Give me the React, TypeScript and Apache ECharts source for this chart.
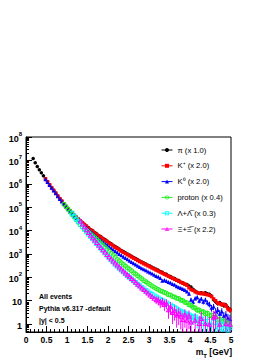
import React, { useEffect, useRef } from "react";
import * as echarts from "echarts";

// m_T bin centres [GeV]
const mTBins = [
  0.175, 0.225, 0.275, 0.325, 0.375, 0.425, 0.475, 0.525, 0.575, 0.625,
  0.675, 0.725, 0.775, 0.825, 0.875, 0.925, 0.975, 1.025, 1.075, 1.125,
  1.175, 1.225, 1.275, 1.325, 1.375, 1.425, 1.475, 1.525, 1.575, 1.625,
  1.675, 1.725, 1.775, 1.825, 1.875, 1.925, 1.975, 2.025, 2.075, 2.125,
  2.175, 2.225, 2.275, 2.325, 2.375, 2.425, 2.475, 2.525, 2.575, 2.625,
  2.675, 2.725, 2.775, 2.825, 2.875, 2.925, 2.975, 3.025, 3.075, 3.125,
  3.175, 3.225, 3.275, 3.325, 3.375, 3.425, 3.475, 3.525, 3.575, 3.625,
  3.675, 3.725, 3.775, 3.825, 3.875, 3.925, 3.975, 4.025, 4.075, 4.125,
  4.175, 4.225, 4.275, 4.325, 4.375, 4.425, 4.475, 4.525, 4.575, 4.625,
  4.675, 4.725, 4.775, 4.825, 4.875, 4.925, 4.975,
];

const pion = [
  1.2e7, 7.9e6, 5.5e6, 4.0e6, 2.95e6, 2.19e6, 1.62e6, 1.23e6, 9.1e5, 6.9e5,
  5.25e5, 3.98e5, 3.02e5, 2.34e5, 1.82e5, 1.41e5, 1.1e5, 8.7e4, 7.1e4, 5.6e4,
  4.57e4, 3.8e4, 3.16e4, 2.63e4, 2.24e4, 1.86e4, 1.58e4, 1.32e4, 1.12e4, 9.8e3,
  8.3e3, 7.2e3, 6.2e3, 5.4e3, 4.7e3, 4.1e3, 3.55e3, 3.1e3, 2.7e3, 2.34e3,
  2.09e3, 1.82e3, 1.62e3, 1.41e3, 1.26e3, 1.12e3, 1000, 891, 794, 708,
  631, 562, 501, 457, 407, 372, 331, 302, 269, 245,
  219, 203, 176, 165, 143, 134, 115, 109, 93, 89,
  76, 73, 62, 59, 51, 49, 43, 39, 31, 26,
  23, 21, 22, 20, 22, 20, 19, 16, 11, 9,
  7.6, 8.3, 7.1, 6.3, 6.6, 5.0, 4.2,
];

const kaonCharged = [
  null, null, null, null, null, null,
  1.62e6, 1.22e6, 9.0e5, 6.8e5, 5.2e5, 3.95e5, 3.0e5, 2.3e5, 1.8e5, 1.39e5,
  1.08e5, 8.5e4, 6.9e4, 5.5e4, 4.45e4, 3.7e4, 3.05e4, 2.55e4, 2.15e4, 1.8e4,
  1.52e4, 1.27e4, 1.07e4, 9.3e3, 7.9e3, 6.8e3, 5.9e3, 5.1e3, 4.45e3, 3.85e3,
  3.35e3, 2.9e3, 2.55e3, 2.2e3, 1.95e3, 1.7e3, 1.5e3, 1.32e3, 1.17e3, 1.04e3,
  930, 830, 740, 660, 590, 525, 470, 425, 380, 345,
  310, 280, 252, 228, 205, 187, 168, 152, 137, 124,
  112, 101, 91, 83, 75, 68, 61, 56, 51, 46,
  36, 30, 28, 24, 22, 21, 20, 21, 19, 18,
  17, 15, 12, 10, 8, 7.5, 6.8, 7.0, 6.0, 4.5,
  4.0,
];

const kaonNeutral = [
  null, null, null, null, null, null,
  1.58e6, 1.2e6, 8.9e5, 6.8e5, 5.1e5, 3.9e5, 2.95e5, 2.24e5, 1.74e5, 1.35e5,
  1.05e5, 8.1e4, 6.5e4, 5.1e4, 4.1e4, 3.4e4, 2.75e4, 2.3e4, 1.9e4, 1.58e4,
  1.32e4, 1.1e4, 9.1e3, 7.8e3, 6.5e3, 5.5e3, 4.6e3, 3.9e3, 3.3e3, 2.8e3,
  2.45e3, 2.1e3, 1.78e3, 1.55e3, 1.35e3, 1.15e3, 1000, 870, 760, 675,
  590, 515, 457, 398, 355, 316, 275, 245, 219, 200,
  178, 162, 145, 129, 115, 105, 93, 72, 76, 69,
  63, 58, 52, 48, 42, 38, 35, 32, 29, 25,
  20, 11, 9.1, 12.6, 14, 10, 12, 9, 11, 8.3,
  7.1, 5, 5.6, 3.5, 4, 2.8, 3.5, 2.2, 2.5, 1.8,
  1.6,
];

const proton = [
  null, null, null, null, null, null, null, null, null, null,
  null, null, null, null, null,
  1.32e5, 1.05e5, 8.3e4, 6.5e4, 4.9e4, 3.8e4, 2.9e4, 2.24e4, 1.78e4, 1.45e4,
  1.2e4, 1.02e4, 8.5e3, 7.2e3, 6.0e3, 5.0e3, 4.2e3, 3.5e3, 2.9e3, 2.35e3,
  1.95e3, 1.58e3, 1.29e3, 1.05e3, 870, 725, 600, 500, 417, 355,
  302, 257, 224, 190, 158, 138, 117, 100, 87, 74,
  65, 56, 49, 43, 38, 33, 30, 27, 24.5, 22.4,
  21, 18, 17.5, 15, 14.5, 12.8, 12.4, 10.5, 10.2, 8.5,
  8.2, 6.8, 6.4, 5.2, 4.9, 4.0, 4.0, 3.3, 3.4, 2.8,
  2.9, 2.3, 2.4, 2.0, 2.0, 1.5, 1.6, 1.3, 1.35, 1.1,
  1.1, 0.85,
];

const lambda = [
  null, null, null, null, null, null, null, null, null, null,
  null, null, null, null, null, null, null, null, null,
  5.5e4, 4.1e4, 3.1e4, 2.4e4, 1.86e4, 1.45e4, 1.12e4, 8.9e3, 7.1e3, 5.6e3,
  4.5e3, 3.55e3, 2.8e3, 2.24e3, 1.78e3, 1.41e3, 1.12e3, 890, 710, 560,
  457, 363, 302, 245, 204, 170, 141, 120, 100, 85,
  71, 60, 51, 44, 37, 32, 27.5, 24, 21, 18.6,
  16.2, 14.5, 12.9, 11.5, 10.2, 9.1, 8.1, 7.2, 6.5, 5.7,
  5.0, 4.5, 4.0, 3.5, 3.2, 2.9, 2.6, 2.4, 2.1, 1.9,
  2.0, 1.6, 1.4, 1.66, 1.26, 1.12, 1.3, 1.0, 0.9, 1.2,
  0.8, 0.9, 0.7, 1.0, 0.63, 0.8, 0.56, 0.7,
];

const xi = [
  null, null, null, null, null, null, null, null, null, null,
  null, null, null, null, null, null, null, null, null, null,
  null, null, null,
  2.6e4, 1.95e4, 1.48e4, 1.1e4, 8.5e3, 6.5e3, 5.1e3, 4.0e3, 3.16e3, 2.45e3,
  1.95e3, 1.55e3, 1.23e3, 980, 776, 631, 513, 417, 347, 282,
  234, 191, 158, 132, 110, 91, 76, 63, 52, 44,
  36, 31, 26, 22, 18, 15.5, 13.2, 11.2, 11, 8.3,
  9.3, 7.1, 7.9, 4.2, 5.6, 3.2, 3.8, 2.5, 2.9, 2.2,
  1.6, 2.5, 1.5, 2.2, 1.26, null, 1.5, null, 1.1, 1.8,
  null, 1.1, null, 1.0, null, 2.0, 2.2, null, 1.0, null,
  null, 1.1, null, 1.0,
];

// symmetric errors for the tail bins, starting at bin index tailFrom (3.175 GeV)
const tailFrom = 60;
const pionErr = [
  0, 0, 0, 0, 0, 0, 0, 0, 0, 0, 0, 0, 0, 0, 0, 0, 3, 3, 2.8,
  2.5, 2.4, 2.3, 2.3, 2.2, 2.3, 2.2, 2.1, 2.0, 1.7, 1.5, 1.4, 1.45, 1.35, 1.3, 1.3, 1.15, 1.05,
];
const kaonChargedErr = [
  0, 0, 0, 0, 0, 0, 0, 0, 0, 0, 0, 0, 0, 0, 0, 0, 3, 2.8, 2.7,
  2.5, 2.4, 2.3, 2.2, 2.3, 2.2, 2.1, 2.1, 1.9, 1.7, 1.6, 1.4, 1.4, 1.3, 1.3, 1.2, 1.05, 1.0,
];
const kaonNeutralErr = [
  8, 7.5, 7, 6, 6.2, 5.9, 5.6, 5.4, 5.1, 4.9, 4.6, 4.4, 4.2, 4.0, 3.8, 3.5, 3.2, 2.4, 2.2,
  2.5, 2.7, 2.3, 2.5, 2.1, 2.4, 2.0, 1.9, 1.6, 1.7, 1.3, 1.4, 1.2, 1.3, 1.05, 1.1, 0.95, 0.9,
];
const protonErr = [
  3, 2.8, 2.6, 2.5, 2.4, 2.3, 2.1, 2.1, 1.9, 1.9, 1.8, 1.8, 1.6, 1.6, 1.5, 1.45, 1.3, 1.3, 1.15,
  1.1, 1.0, 1.0, 0.9, 0.9, 0.85, 0.85, 0.75, 0.78, 0.7, 0.7, 0.6, 0.62, 0.56, 0.57, 0.52, 0.52, 0.46,
];
const lambdaErr = [
  2.5, 2.3, 2.2, 2.1, 2, 1.9, 1.8, 1.7, 1.6, 1.5, 1.4, 1.35, 1.3, 1.25, 1.2, 1.15, 1.1, 1.05, 1.0,
  1.0, 0.95, 0.9, 0.95, 0.85, 0.8, 0.85, 0.8, 0.75, 0.8, 0.7, 0.75, 0.65, 0.8, 0.6, 0.7, 0.55, 0.65,
];
const xiErr = [
  4, 4, 3.5, 4, 3.5, 3.5, 2.5, 3, 2.2, 2.4, 1.8, 2, 1.6, 1.4, 1.8, 1.3, 1.6, 1.2, 0,
  1.3, 0, 1.1, 1.5, 0, 1.1, 0, 1.0, 0, 1.6, 1.6, 0, 1.0, 0, 0, 1.1, 0, 1.0,
];

const legendNames = [
  "π (x 1.0)",
  "K⁺ (x 2.0)",
  "K⁰ (x 2.0)",
  "proton (x 0.4)",
  "Λ+Λ̅ (x 0.3)",
  "Ξ+Ξ̅ (x 2.2)",
];
const yDecades = [1, 10, 100, 1e3, 1e4, 1e5, 1e6, 1e7, 1e8];
const infoLines = ["All events", "Pythia v6.317 -default", "|y| < 0.5"];

const yMin = 0.46;
const yMax = 1e8;
const FONT = '"Liberation Sans", Arial, Helvetica, sans-serif';

// hollow marker outlines (outer contour clockwise, inner contour reversed -> hole)
const OPEN_CIRCLE =
  "path://M0,-5A5,5 0 1,1 0,5A5,5 0 1,1 0,-5Z M0,-3.1A3.1,3.1 0 1,0 0,3.1A3.1,3.1 0 1,0 0,-3.1Z";
const OPEN_SQUARE = "path://M-5,-5L5,-5L5,5L-5,5Z M-3.2,-3.2L-3.2,3.2L3.2,3.2L3.2,-3.2Z";
const OPEN_TRIANGLE = "path://M0,-5L5,5L-5,5Z M0,-0.97L-2.09,3.2L2.09,3.2Z";

function pairs(vals: (number | null)[]) {
  const out: number[][] = [];
  vals.forEach((v, i) => {
    if (v != null) out.push([mTBins[i], v]);
  });
  return out;
}

function errorData(vals: (number | null)[], errs: number[]) {
  const out: number[][] = [];
  errs.forEach((e, k) => {
    const i = tailFrom + k;
    const v = vals[i];
    if (v == null || !e) return;
    out.push([mTBins[i], Math.max(v - e, yMin), v + e]);
  });
  return out;
}

function minorLogTicks() {
  const out: number[] = [];
  for (let d = -1; d < 8; d++) {
    for (let m = 2; m <= 9; m++) {
      const v = m * Math.pow(10, d);
      if (v > yMin && v < yMax) out.push(v);
    }
  }
  return out;
}

export default function App() {
  const ref = useRef<HTMLDivElement>(null);

  useEffect(() => {
    document.body.style.margin = "0";
    if (!ref.current) return;
    const chart = echarts.init(ref.current, null, { renderer: "svg" });

    const specs = [
      { name: legendNames[0], vals: pion, color: "#000000", symbol: "circle", size: 3.5, err: pionErr },
      { name: legendNames[1], vals: kaonCharged, color: "#ff0000", symbol: "rect", size: 3.5, err: kaonChargedErr },
      { name: legendNames[2], vals: kaonNeutral, color: "#0000ff", symbol: "triangle", size: 4, err: kaonNeutralErr },
      { name: legendNames[3], vals: proton, color: "#22ee22", symbol: OPEN_CIRCLE, size: 5, err: protonErr },
      { name: legendNames[4], vals: lambda, color: "#00ffff", symbol: OPEN_SQUARE, size: 4.8, err: lambdaErr },
      { name: legendNames[5], vals: xi, color: "#ff00ff", symbol: OPEN_TRIANGLE, size: 5.5, err: xiErr },
    ];

    const series: any[] = [];
    specs.forEach((s, idx) => {
      const color = s.color;
      series.push({
        type: "custom",
        name: "err" + idx,
        data: errorData(s.vals, s.err),
        encode: { x: 0, y: [1, 2] },
        clip: true,
        silent: true,
        z: 2 + idx,
        renderItem: (params: any, api: any) => {
          const x = api.value(0);
          const p1 = api.coord([x, api.value(1)]);
          const p2 = api.coord([x, api.value(2)]);
          return {
            type: "line",
            shape: { x1: p1[0], y1: p1[1], x2: p2[0], y2: p2[1] },
            style: { stroke: color, lineWidth: 1 },
          };
        },
      });
      series.push({
        type: "line",
        name: s.name,
        data: pairs(s.vals),
        color: s.color,
        symbol: s.symbol,
        symbolSize: s.size,
        showSymbol: true,
        clip: true,
        silent: true,
        z: 2 + idx,
        lineStyle: { color: s.color, opacity: 0, width: 1 },
        itemStyle: { color: s.color, borderWidth: 0 },
      });
    });

    const supRich = {
      b: { fontSize: 9, fontWeight: "bold", fontFamily: FONT, color: "#000", verticalAlign: "bottom", lineHeight: 12 },
      s: { fontSize: 6, fontWeight: "bold", fontFamily: FONT, color: "#000", verticalAlign: "top", lineHeight: 12 },
    };

    chart.setOption({
      animation: false,
      grid: {
        left: 26,
        top: 137,
        width: 205,
        height: 195,
        show: true,
        borderColor: "#000",
        borderWidth: 1,
        backgroundColor: "transparent",
        containLabel: false,
        outerBoundsMode: "none",
      },
      xAxis: {
        type: "value",
        min: 0,
        max: 5,
        interval: 0.5,
        axisLine: { show: true, lineStyle: { color: "#000", width: 1 } },
        axisTick: { show: true, inside: true, length: 6, lineStyle: { color: "#000" } },
        minorTick: { show: true, splitNumber: 5, length: 3, lineStyle: { color: "#000" } },
        splitLine: { show: false },
        axisLabel: {
          fontSize: 8.5,
          fontWeight: "bold",
          fontFamily: FONT,
          color: "#000",
          margin: 3,
          showMinLabel: true,
          showMaxLabel: true,
        },
      },
      yAxis: [
        {
          type: "log",
          logBase: 10,
          min: yMin,
          max: yMax,
          position: "left",
          axisLine: { show: true, lineStyle: { color: "#000", width: 1 } },
          axisTick: { show: true, inside: true, length: 6, customValues: yDecades, lineStyle: { color: "#000" } },
          splitLine: { show: false },
          axisLabel: {
            customValues: yDecades,
            margin: 4,
            color: "#000",
            fontSize: 9,
            fontWeight: "bold",
            fontFamily: FONT,
            formatter: (v: number) => {
              const e = Math.round(Math.log10(v));
              if (e === 0) return "{b|1}";
              if (e === 1) return "{b|10}";
              return "{b|10}{s|" + e + "}";
            },
            rich: supRich,
          },
        },
        {
          type: "log",
          logBase: 10,
          min: yMin,
          max: yMax,
          position: "left",
          offset: 0,
          axisLine: { show: false },
          axisTick: { show: true, inside: true, length: 3, customValues: minorLogTicks(), lineStyle: { color: "#000" } },
          axisLabel: { show: false },
          splitLine: { show: false },
        },
      ],
      legend: {
        show: true,
        orient: "vertical",
        left: 156,
        top: 140,
        itemWidth: 11,
        itemHeight: 5,
        itemGap: 5.8,
        selectedMode: false,
        data: legendNames,
        lineStyle: { opacity: 1, width: 1 },
        textStyle: { fontSize: 7.6, fontFamily: FONT, color: "#000", lineHeight: 10 },
      },
      graphic: [
        ...infoLines.map((t, i) => ({
          type: "text",
          x: 39,
          y: 296 + i * 12,
          style: {
            text: t,
            fontSize: 7,
            fontWeight: "bold",
            fontFamily: FONT,
            fill: "#000",
            verticalAlign: "middle",
          },
        })),
        {
          type: "text",
          x: 232,
          y: 353,
          style: {
            text: "{m|m}{t|T}{m| [GeV]}",
            align: "right",
            verticalAlign: "middle",
            rich: {
              m: { fontSize: 8.5, fontWeight: "bold", fontFamily: FONT, fill: "#000", verticalAlign: "top", lineHeight: 12 },
              t: { fontSize: 6, fontWeight: "bold", fontFamily: FONT, fill: "#000", verticalAlign: "bottom", lineHeight: 12 },
            },
          },
        },
      ],
      series,
    });

    return () => chart.dispose();
  }, []);

  return <div ref={ref} style={{ width: 278, height: 360 }} />;
}
